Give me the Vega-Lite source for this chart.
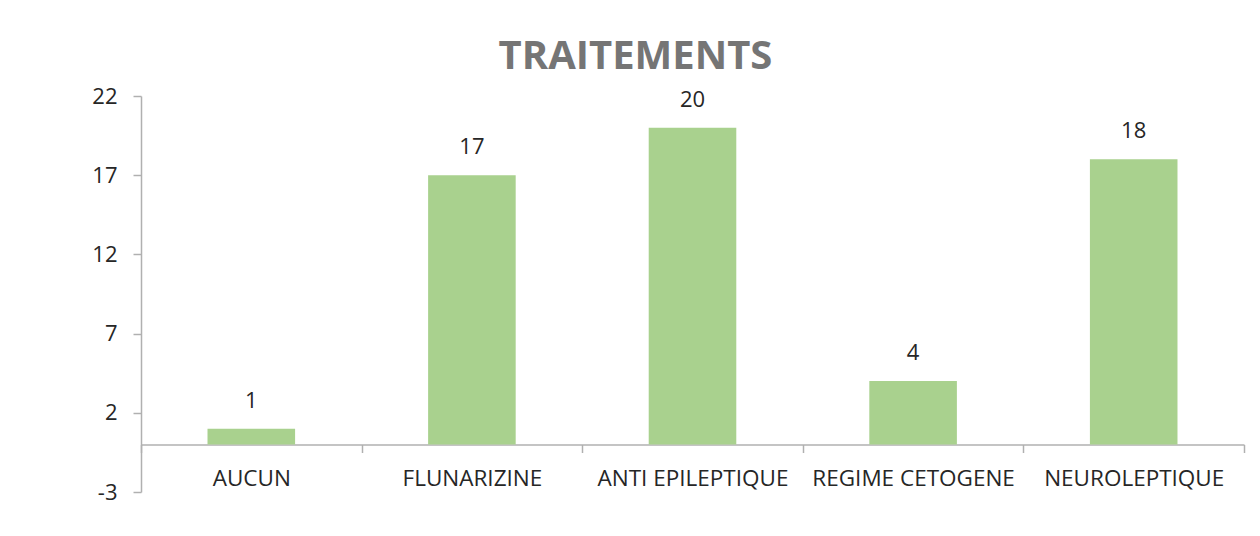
{
  "$schema": "https://vega.github.io/schema/vega-lite/v6.json",
  "autosize": "none",
  "width": 1103,
  "height": 396,
  "padding": {"left": 141, "top": 96, "right": 16, "bottom": 44},
  "background": "white",
  "config": {"view": {"stroke": null}, "font": "Open Sans"},
  "title": {
    "text": "TRAITEMENTS",
    "font": "Open Sans",
    "fontSize": 40,
    "fontWeight": "bold",
    "color": "#757575",
    "anchor": "middle",
    "dx": -57,
    "offset": 8
  },
  "data": {
    "values": [
      {"traitement": "AUCUN", "n": 1},
      {"traitement": "FLUNARIZINE", "n": 17},
      {"traitement": "ANTI EPILEPTIQUE", "n": 20},
      {"traitement": "REGIME CETOGENE", "n": 4},
      {"traitement": "NEUROLEPTIQUE", "n": 18}
    ]
  },
  "encoding": {
    "x": {
      "field": "traitement",
      "type": "nominal",
      "sort": null,
      "scale": {"paddingInner": 0, "paddingOuter": 0},
      "axis": {
        "title": null,
        "offset": -47.5,
        "labelAngle": 0,
        "labelFont": "Open Sans",
        "labelFontSize": 22.5,
        "labelLimit": 300,
        "labelColor": "#262626",
        "labelPadding": 15,
        "domainColor": "#b0b0b0",
        "domainWidth": 1.5,
        "tickColor": "#b0b0b0",
        "tickWidth": 1.5,
        "tickSize": 8,
        "tickBand": "extent",
        "grid": false
      }
    },
    "y": {
      "field": "n",
      "type": "quantitative",
      "scale": {"domain": [-3, 22], "nice": false, "zero": false},
      "axis": {
        "title": null,
        "values": [-3, 2, 7, 12, 17, 22],
        "labelExpr": "'' + datum.value",
        "labelFont": "Open Sans",
        "labelFontSize": 22,
        "labelColor": "#262626",
        "labelPadding": 16,
        "domainColor": "#b0b0b0",
        "domainWidth": 1.5,
        "tickColor": "#b0b0b0",
        "tickWidth": 1.5,
        "tickSize": 8,
        "grid": false
      }
    }
  },
  "layer": [
    {
      "mark": {"type": "bar", "color": "#a9d18e", "width": {"band": 0.397}},
      "encoding": {"y2": {"datum": 0}}
    },
    {
      "mark": {"type": "text", "baseline": "bottom", "dy": -16, "fontSize": 22, "font": "Open Sans", "color": "#262626"},
      "encoding": {"text": {"field": "n", "type": "quantitative"}}
    }
  ]
}
